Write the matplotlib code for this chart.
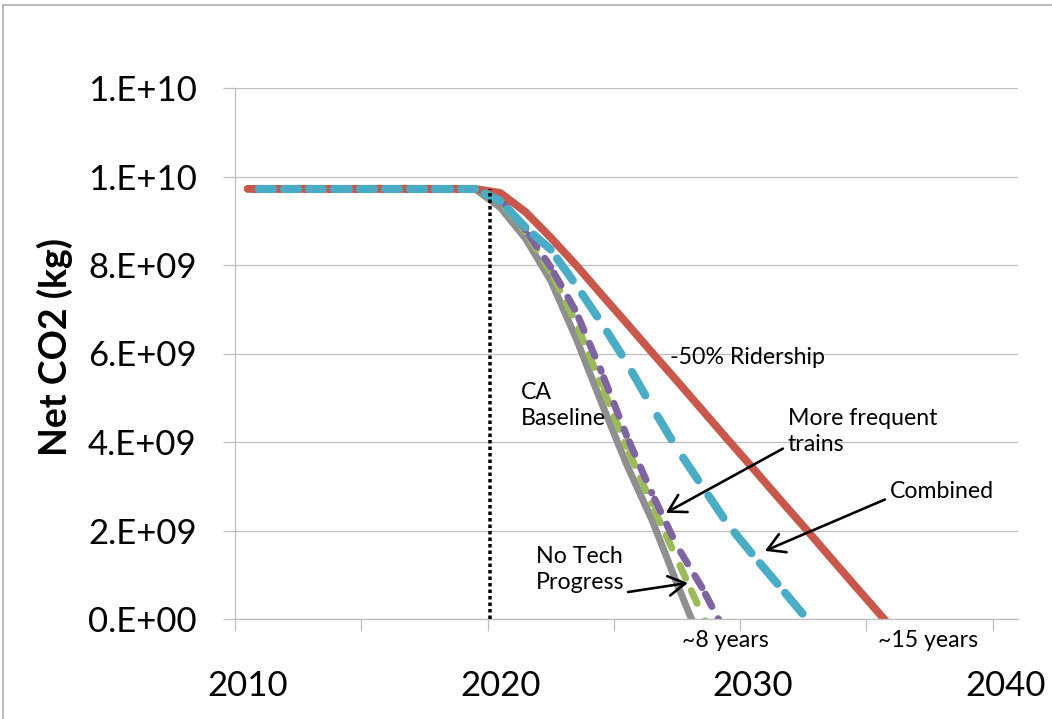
import numpy as np
import matplotlib
matplotlib.use("Agg")
import matplotlib.pyplot as plt
from matplotlib.collections import LineCollection
from matplotlib.lines import Line2D

plt.rcParams['font.family'] = ['Lato', 'DejaVu Sans']
plt.rcParams['lines.scale_dashes'] = False

DPI = 100
PX = 72.0 / DPI          # points per pixel

# ---- data: net CO2 (billion kg) per year ----------------------------------
years = np.arange(2010, 2037)
pre_service = [9.72, 9.72, 9.72, 9.72, 9.72, 9.72, 9.72, 9.72, 9.72, 9.72]   # 2010-2019

ca_baseline = pre_service + [9.30, 8.60, 7.65, 6.35, 4.90, 3.50, 2.25, 0.80, -0.60]
no_tech_progress = pre_service + [9.45, 8.75, 7.85, 6.70, 5.30, 3.90, 2.60, 1.35, 0.10, -1.15]
more_frequent = pre_service + [9.50, 8.80, 7.95, 6.95, 5.60, 4.15, 2.85, 1.65, 0.70, -0.40]
combined = pre_service + [9.45, 8.85, 8.35, 7.55, 6.70, 5.80, 4.80, 3.85, 3.00, 2.15,
                          1.45, 0.78, 0.10, -0.55]
ridership_half = pre_service + [9.63, 9.20, 8.62, 8.00, 7.34, 6.69, 6.03, 5.38, 4.72, 4.06,
                                3.41, 2.75, 2.10, 1.44, 0.78, 0.13, -0.53]
UNIT = 1e9

service_start = 2019.6

y_ticks = [0, 2e9, 4e9, 6e9, 8e9, 1.0e10, 1.2e10]
y_tick_labels = ["0.E+00", "2.E+09", "4.E+09", "6.E+09", "8.E+09", "1.E+10", "1.E+10"]
x_label_years = [2010, 2020, 2030, 2040]

# colours
C_GRAY = "#8F8F8F"
C_GREEN = "#9BBB59"
C_PURPLE = "#8064A2"
C_RED = "#C8574C"
C_CYAN = "#4BACC6"
C_AXIS = "#BFBFBF"


def series_xy(values):
    v = np.asarray(values) * UNIT
    return years[:len(v)], v


def segmented_dashes(ax, values, color, lw_px, on_px, off_px, lead_px, z):
    """Dashed line whose dash pattern restarts at every data point."""
    x, y = series_xy(values)
    pts = np.column_stack([x, y])
    segs = [pts[i:i + 2] for i in range(len(pts) - 1)]
    period = on_px + off_px
    style = ((period - lead_px) * PX, (on_px * PX, off_px * PX))
    lc = LineCollection(segs, colors=color, linewidths=lw_px * PX,
                        linestyles=[style], capstyle='round', zorder=z)
    ax.add_collection(lc)


fig = plt.figure(figsize=(10.52, 7.19), dpi=DPI)
ax = fig.add_axes([235 / 1052, 1 - 619 / 719, 783 / 1052, 531 / 719])

# solid series
x, y = series_xy(ca_baseline)
ax.plot(x, y, color=C_GRAY, lw=7 * PX, solid_capstyle='round',
        solid_joinstyle='round', zorder=2.0)

# dashed series
segmented_dashes(ax, no_tech_progress, C_GREEN, 7.0, 14.0, 13.7, 6.8, 2.1)
segmented_dashes(ax, more_frequent, C_PURPLE, 7.0, 14.0, 13.7, 6.8, 2.2)

x, y = series_xy(ridership_half)
ax.plot(x, y, color=C_RED, lw=7.8 * PX, solid_capstyle='round',
        solid_joinstyle='round', zorder=2.3)

segmented_dashes(ax, combined, C_CYAN, 8.2, 27.0, 18.0, 11.0, 2.4)

# start of service marker
ax.plot([service_start, service_start], [0, pre_service[-1] * UNIT], color='black',
        lw=3.5 * PX, linestyle=(0, (3.5 * PX, 3 * PX)), dash_capstyle='butt', zorder=2.6)

# axes styling
ax.set_xlim(2009.5, 2040.5)
ax.set_ylim(0, 1.2e10)
for side in ("top", "right"):
    ax.spines[side].set_visible(False)
for side in ("left", "bottom"):
    ax.spines[side].set_color(C_AXIS)
    ax.spines[side].set_linewidth(1.3 * PX)

ax.set_yticks(y_ticks)
ax.set_yticklabels(y_tick_labels)
ax.set_xticks(x_label_years)
ax.set_xticklabels([str(v) for v in x_label_years])
ax.set_xticks(np.arange(2009.5, 2041, 5), minor=True)

ax.tick_params(axis='x', which='major', length=0, pad=37, labelsize=25)
ax.tick_params(axis='x', which='minor', length=12 * PX, width=1.3 * PX,
               color=C_AXIS, direction='out')
ax.tick_params(axis='y', length=12 * PX, width=1.3 * PX, color=C_AXIS,
               direction='out', pad=19, labelsize=25)
ax.grid(axis='y', color=C_AXIS, lw=1.3 * PX)
ax.set_axisbelow(True)

fig.text(55 / 1052, 1 - 347 / 719, "Net CO2 (kg)", rotation=90, ha='center',
         va='center', fontsize=27, fontweight='bold')

# annotations
txt = dict(fontsize=16.7, ha='left', va='center', linespacing=1.3, color='black')
ax.text(2026.72, 5.91e9, "-50% Ridership", **txt)
ax.text(2031.39, 4.24e9, "More frequent\ntrains", **txt)
ax.text(2035.43, 2.88e9, "Combined", **txt)
ax.text(2020.82, 4.82e9, "CA\nBaseline", **txt)
ax.text(2021.42, 1.11e9, "No Tech\nProgress", **txt)
ax.text(2027.2, -0.48e9, "~8 years", clip_on=False, **txt)
ax.text(2034.96, -0.48e9, "~15 years", clip_on=False, **txt)

arrow = dict(arrowstyle='->,head_length=0.55,head_width=0.32', color='black',
             lw=2.6 * PX, shrinkA=0, shrinkB=0, mutation_scale=22)
ax.annotate("", xy=(2026.56, 2.40e9), xytext=(2031.19, 3.85e9), arrowprops=arrow, zorder=3)
ax.annotate("", xy=(2030.48, 1.54e9), xytext=(2035.23, 2.70e9), arrowprops=arrow, zorder=3)
ax.annotate("", xy=(2027.43, 0.815e9), xytext=(2025.06, 0.61e9), arrowprops=arrow, zorder=3)

# chart frame edges
fig.add_artist(Line2D([3 / 1052, 1], [1 - 5 / 719, 1 - 5 / 719], color="#A6A6A6",
                      lw=1.5 * PX, transform=fig.transFigure))
fig.add_artist(Line2D([3 / 1052, 3 / 1052], [0, 1 - 5 / 719], color="#A6A6A6",
                      lw=1.5 * PX, transform=fig.transFigure))

fig.savefig("out.png", dpi=DPI)
